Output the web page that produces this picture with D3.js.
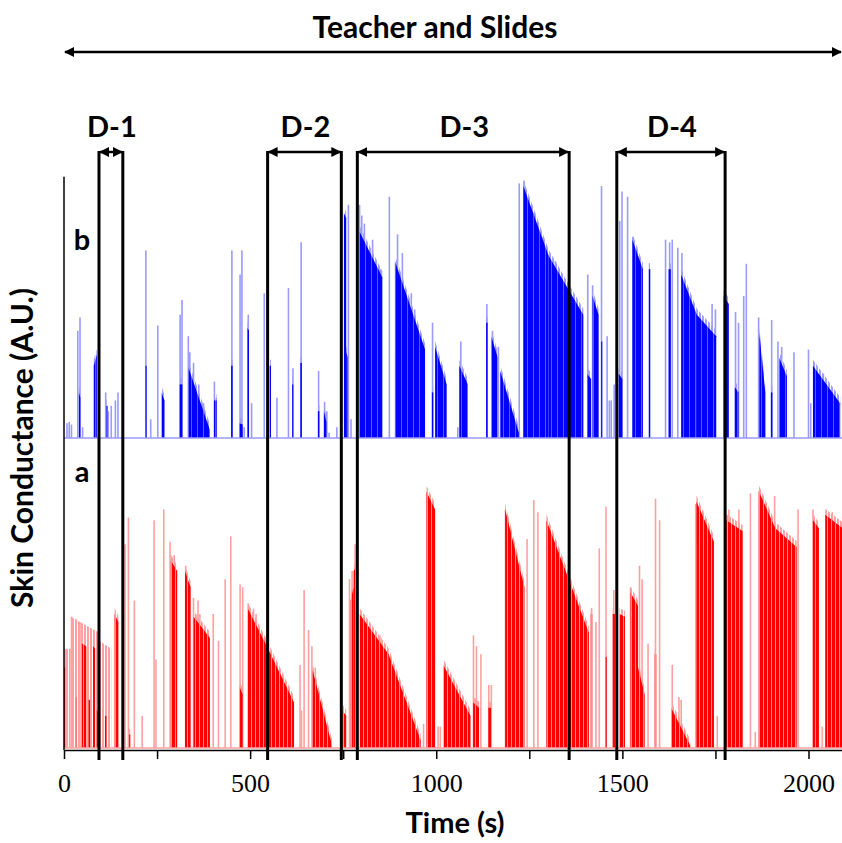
<!DOCTYPE html>
<html>
<head>
<meta charset="utf-8">
<title>Skin conductance</title>
<script src="https://d3js.org/d3.v7.min.js"></script>
<style>
  body { margin: 0; background: #fff; }
  svg text { font-family: Lato, "Open Sans", sans-serif; font-weight: bold; fill: #000; }
  .tick text { font-family: "Liberation Serif", "DejaVu Serif", serif; font-weight: normal; }
</style>
</head>
<body>
<script>
// ---- data (time in s, skin conductance in arbitrary units 0..1) ----
// dark decaying bursts: [start, end, value at start, value at end]
var blueBursts = [
  [40,44,0.17,0.15],[80,88,0.27,0.31],[114,118,0.12,0.12],[219,222,0.27,0.27],[262,270,0.17,0.14],
  [310,318,0.2,0.2],[335,392,0.26,0.03],[403,410,0.14,0.14],[449,453,0.27,0.27],[471,480,0.055,0.05],
  [493,497,0.41,0.40],[552,556,0.27,0.27],[613,617,0.2,0.2],[635,639,0.28,0.28],[682,686,0.1,0.1],
  [698,705,0.1,0.06],[752,758,0.84,0.82],[758,763,0.32,0.30],[794,855,0.77,0.60],[889,970,0.66,0.33],
  [988,992,0.17,0.17],[997,1028,0.34,0.20],[1062,1085,0.27,0.20],[1134,1138,0.43,0.43],[1148,1165,0.38,0.30],
  [1172,1222,0.25,0.02],[1234,1302,0.94,0.68],[1302,1395,0.68,0.46],[1405,1416,0.24,0.22],[1420,1436,0.53,0.46],
  [1443,1446,0.36,0.36],[1490,1500,0.24,0.22],[1527,1555,0.74,0.63],[1571,1575,0.63,0.63],[1624,1630,0.63,0.63],
  [1658,1700,0.61,0.46],[1700,1752,0.46,0.38],[1772,1786,0.53,0.50],[1802,1812,0.19,0.17],[1868,1884,0.39,0.17],
  [1899,1903,0.17,0.17],[1921,1942,0.30,0.23],[2012,2085,0.27,0.13]
];
// single faint peaks: [time, value]
var blueSpikes = [
  [8,0.055],[14,0.06],[20,0.05],[37,0.40],[43,0.45],[50,0.04],[87,0.31],[112,0.17],[119,0.10],[127,0.12],
  [138,0.14],[145,0.17],[220,0.70],[233,0.07],[252,0.42],[312,0.46],[317,0.515],[334,0.38],[338,0.32],[348,0.28],
  [362,0.20],[375,0.13],[404,0.21],[409,0.15],[451,0.70],[473,0.61],[478,0.70],[484,0.04],[495,0.46],[504,0.13],
  [538,0.54],[572,0.15],[603,0.56],[615,0.26],[637,0.73],[684,0.25],[700,0.135],[706,0.10],[712,0.02],[733,0.04],
  [764,0.87],[771,0.07],[794,0.87],[800,0.83],[807,0.80],[829,0.74],[850,0.63],[874,0.90],[896,0.76],[909,0.69],
  [933,0.54],[942,0.48],[960,0.37],[990,0.43],[1010,0.27],[1058,0.04],[1066,0.36],[1136,0.50],[1151,0.40],[1167,0.34],
  [1223,0.95],[1236,0.96],[1262,0.84],[1284,0.75],[1320,0.66],[1407,0.61],[1420,0.57],[1444,0.94],[1459,0.38],[1465,0.14],
  [1470,0.14],[1478,0.20],[1493,0.81],[1499,0.92],[1514,0.90],[1528,0.75],[1616,0.74],[1627,0.73],[1634,0.74],[1649,0.71],
  [1660,0.69],[1741,0.50],[1750,0.48],[1804,0.47],[1812,0.43],[1826,0.53],[1833,0.65],[1866,0.45],[1901,0.44],[1918,0.36],
  [1928,0.34],[1961,0.32],[2000,0.33],[2006,0.13],[2015,0.28],[2040,0.24]
];
var redBursts = [
  [0,3,0.30,0.30],[30,33,0.19,0.19],[48,60,0.39,0.38],[66,70,0.18,0.18],[78,84,0.38,0.37],[88,91,0.14,0.14],
  [110,114,0.12,0.12],[136,146,0.50,0.47],[175,178,0.05,0.05],[287,304,0.70,0.66],[325,340,0.66,0.60],
  [348,392,0.49,0.41],[471,480,0.23,0.20],[494,545,0.52,0.38],[545,618,0.38,0.17],[668,720,0.29,0.01],
  [748,758,0.14,0.12],[770,778,0.55,0.60],[778,787,0.66,0.68],[794,872,0.50,0.35],[872,958,0.35,0.03],
  [974,997,0.955,0.89],[1019,1092,0.31,0.12],[1099,1115,0.17,0.15],[1140,1147,0.15,0.15],[1185,1237,0.89,0.60],
  [1296,1356,0.85,0.63],[1356,1410,0.63,0.43],[1415,1419,0.50,0.50],[1455,1458,0.34,0.34],[1474,1480,0.50,0.50],
  [1492,1507,0.50,0.49],[1522,1542,0.58,0.53],[1542,1560,0.30,0.20],[1587,1591,0.35,0.35],[1631,1682,0.15,0.01],
  [1699,1746,0.92,0.77],[1779,1823,0.85,0.81],[1866,1911,0.96,0.82],[1911,1968,0.82,0.75],[2012,2028,0.85,0.82],
  [2045,2092,0.87,0.82]
];
// faint plateau at the start of the red record
var redHaze = [[2,18,0.37,0.37],[18,95,0.49,0.43],[95,127,0.40,0.37]];
var redSpikes = [
  [3,0.37],[21,0.49],[32,0.48],[43,0.47],[164,0.76],[173,0.86],[189,0.55],[210,0.12],[242,0.85],[247,0.33],
  [268,0.89],[285,0.77],[296,0.72],[327,0.68],[348,0.56],[360,0.55],[365,0.50],[401,0.50],[415,0.40],[433,0.63],
  [448,0.79],[473,0.61],[480,0.60],[495,0.54],[509,0.52],[516,0.50],[634,0.31],[638,0.14],[645,0.59],[657,0.44],
  [666,0.38],[675,0.30],[767,0.63],[774,0.66],[782,0.76],[849,0.42],[857,0.36],[966,0.09],[976,0.956],[1005,0.08],
  [1011,0.08],[1100,0.42],[1108,0.38],[1120,0.35],[1141,0.235],[1148,0.235],[1186,0.89],[1244,0.78],[1262,0.925],[1273,0.88],
  [1417,0.52],[1429,0.47],[1438,0.745],[1456,0.90],[1477,0.59],[1522,0.60],[1546,0.68],[1553,0.63],[1569,0.39],[1589,0.93],
  [1600,0.85],[1634,0.31],[1652,0.19],[1658,0.18],[1697,0.91],[1755,0.12],[1786,0.89],[1813,0.89],[1844,0.95],[1857,0.06],
  [1870,0.95],[1909,0.94],[1972,0.89],[2012,0.89],[2037,0.08],[2048,0.88],[2064,0.88]
];
// discussion periods
var segNames = ["D-1", "D-2", "D-3", "D-4"];
var segStart = [94, 547, 788, 1485];
var segEnd = [158, 745, 1357, 1776];
var xTicks = [0, 250, 500, 750, 1000, 1250, 1500, 1750, 2000];
var timeMax = 2090;

var W = 842, H = 843;
var svg = d3.select("body").append("svg").attr("width", W).attr("height", H);
svg.append("rect").attr("width", W).attr("height", H).attr("fill", "#fff");

var x = d3.scaleLinear().domain([0, timeMax]).range([64, 842]);
var yB = d3.scaleLinear().domain([0, 1]).range([438, 170]);
var yA = d3.scaleLinear().domain([0, 1]).range([748, 480]);

var defs = svg.append("defs");
// arrow heads
defs.append("marker").attr("id", "head")
  .attr("viewBox", "0 0 10 10").attr("refX", 9).attr("refY", 5)
  .attr("markerWidth", 4).attr("markerHeight", 4).attr("orient", "auto-start-reverse")
  .append("path").attr("d", "M0,0L10,5L0,10z").attr("fill", "#000");
// stripy fills so bursts look like dense bars
function stripes(id, dark, light, w, gap) {
  var p = defs.append("pattern").attr("id", id).attr("patternUnits", "userSpaceOnUse")
    .attr("width", w).attr("height", 10);
  p.append("rect").attr("width", w).attr("height", 10).attr("fill", dark);
  p.append("rect").attr("x", w - gap).attr("width", gap).attr("height", 10).attr("fill", light);
}
stripes("blueFill", "#0000ff", "#5858ff", 6, 1);
stripes("redFill", "#ff0000", "#ff8c8c", 4, 1);
stripes("blueHalo", "#a0a0ff", "#ffffff", 3, 1);
stripes("redHalo", "#ffa0a0", "#ffffff", 3, 1);

function drawSeries(y, bursts, spikes, haze, light, fill, halo) {
  var g = svg.append("g");
  var area = d3.area().x(function(d) { return x(d[0]); })
    .y0(y(0)).y1(function(d) { return y(d[1]); });
  var raised = d3.area().x(function(d) { return x(d[0]); })
    .y0(y(0)).y1(function(d) { return y(d[1]) - 6; });
  g.selectAll(".haze").data(haze).enter().append("path")
    .attr("d", function(d) { return area([[d[0], d[2]], [d[1], d[3]]]); })
    .attr("fill", halo);
  // faint tops above each burst
  g.selectAll(".halo").data(bursts).enter().append("path")
    .attr("d", function(d) { return raised([[d[0], d[2]], [d[1], d[3]]]); })
    .attr("fill", halo);
  g.selectAll(".spike").data(spikes).enter().append("line")
    .attr("x1", function(d) { return x(d[0]); }).attr("x2", function(d) { return x(d[0]); })
    .attr("y1", y(0)).attr("y2", function(d) { return y(d[1]); })
    .attr("stroke", light).attr("stroke-width", 1.6);
  g.selectAll(".burst").data(bursts).enter().append("path")
    .attr("d", function(d) { return area([[d[0], d[2]], [d[1], d[3]]]); })
    .attr("fill", fill);
  g.append("line").attr("x1", x(0)).attr("x2", x(timeMax))
    .attr("y1", y(0)).attr("y2", y(0)).attr("stroke", light).attr("stroke-width", 1.5);
}
drawSeries(yB, blueBursts, blueSpikes, [], "#9a9aff", "url(#blueFill)", "url(#blueHalo)");
drawSeries(yA, redBursts, redSpikes, redHaze, "#ffa0a0", "url(#redFill)", "url(#redHalo)");

// x axis
var axis = svg.append("g").attr("transform", "translate(0,750)")
  .call(d3.axisBottom(x).tickValues(xTicks).tickSize(9).tickSizeOuter(0)
    .tickFormat(function(d) { return d % 500 === 0 ? d : ""; }));
axis.select(".domain").attr("stroke", "#000").attr("stroke-width", 1.5);
axis.selectAll(".tick line").attr("stroke", "#000").attr("stroke-width", 1.5);
axis.selectAll(".tick text").attr("y", 42).attr("dy", null)
  .style("font-size", "26px").attr("fill", "#3a3a3a");

// left axis line
svg.append("line").attr("x1", x(0)).attr("x2", x(0))
  .attr("y1", yB(0.975)).attr("y2", 750).attr("stroke", "#000").attr("stroke-width", 1.5);

// discussion period brackets
segNames.forEach(function(name, i) {
  [segStart[i], segEnd[i]].forEach(function(t) {
    svg.append("line").attr("x1", x(t)).attr("x2", x(t)).attr("y1", 151).attr("y2", 760)
      .attr("stroke", "#000").attr("stroke-width", 3);
  });
  svg.append("line").attr("x1", x(segStart[i]) + 1).attr("x2", x(segEnd[i]) - 1)
    .attr("y1", 152).attr("y2", 152).attr("stroke", "#000").attr("stroke-width", 2.5)
    .attr("marker-start", "url(#head)").attr("marker-end", "url(#head)");
  svg.append("text").attr("x", x((segStart[i] + segEnd[i]) / 2) + 1).attr("y", 137)
    .attr("text-anchor", "middle").style("font-size", "29px").text(name);
});

// teacher and slides arrow
svg.append("line").attr("x1", x(0) + 1).attr("x2", x(timeMax) - 1).attr("y1", 52).attr("y2", 52)
  .attr("stroke", "#000").attr("stroke-width", 2.5)
  .attr("marker-start", "url(#head)").attr("marker-end", "url(#head)");
svg.append("text").attr("x", 435).attr("y", 38).attr("text-anchor", "middle")
  .style("font-size", "30px").text("Teacher and Slides");

// panel letters
svg.append("text").attr("x", 82).attr("y", 250).attr("text-anchor", "middle")
  .style("font-size", "29px").text("b");
svg.append("text").attr("x", 82).attr("y", 482).attr("text-anchor", "middle")
  .style("font-size", "29px").text("a");

// axis titles
svg.append("text").attr("x", 455).attr("y", 833).attr("text-anchor", "middle")
  .style("font-size", "29px").text("Time (s)");
svg.append("text").attr("transform", "translate(33,448) rotate(-90)").attr("text-anchor", "middle")
  .style("font-size", "30px").text("Skin Conductance (A.U.)");
</script>
</body>
</html>
